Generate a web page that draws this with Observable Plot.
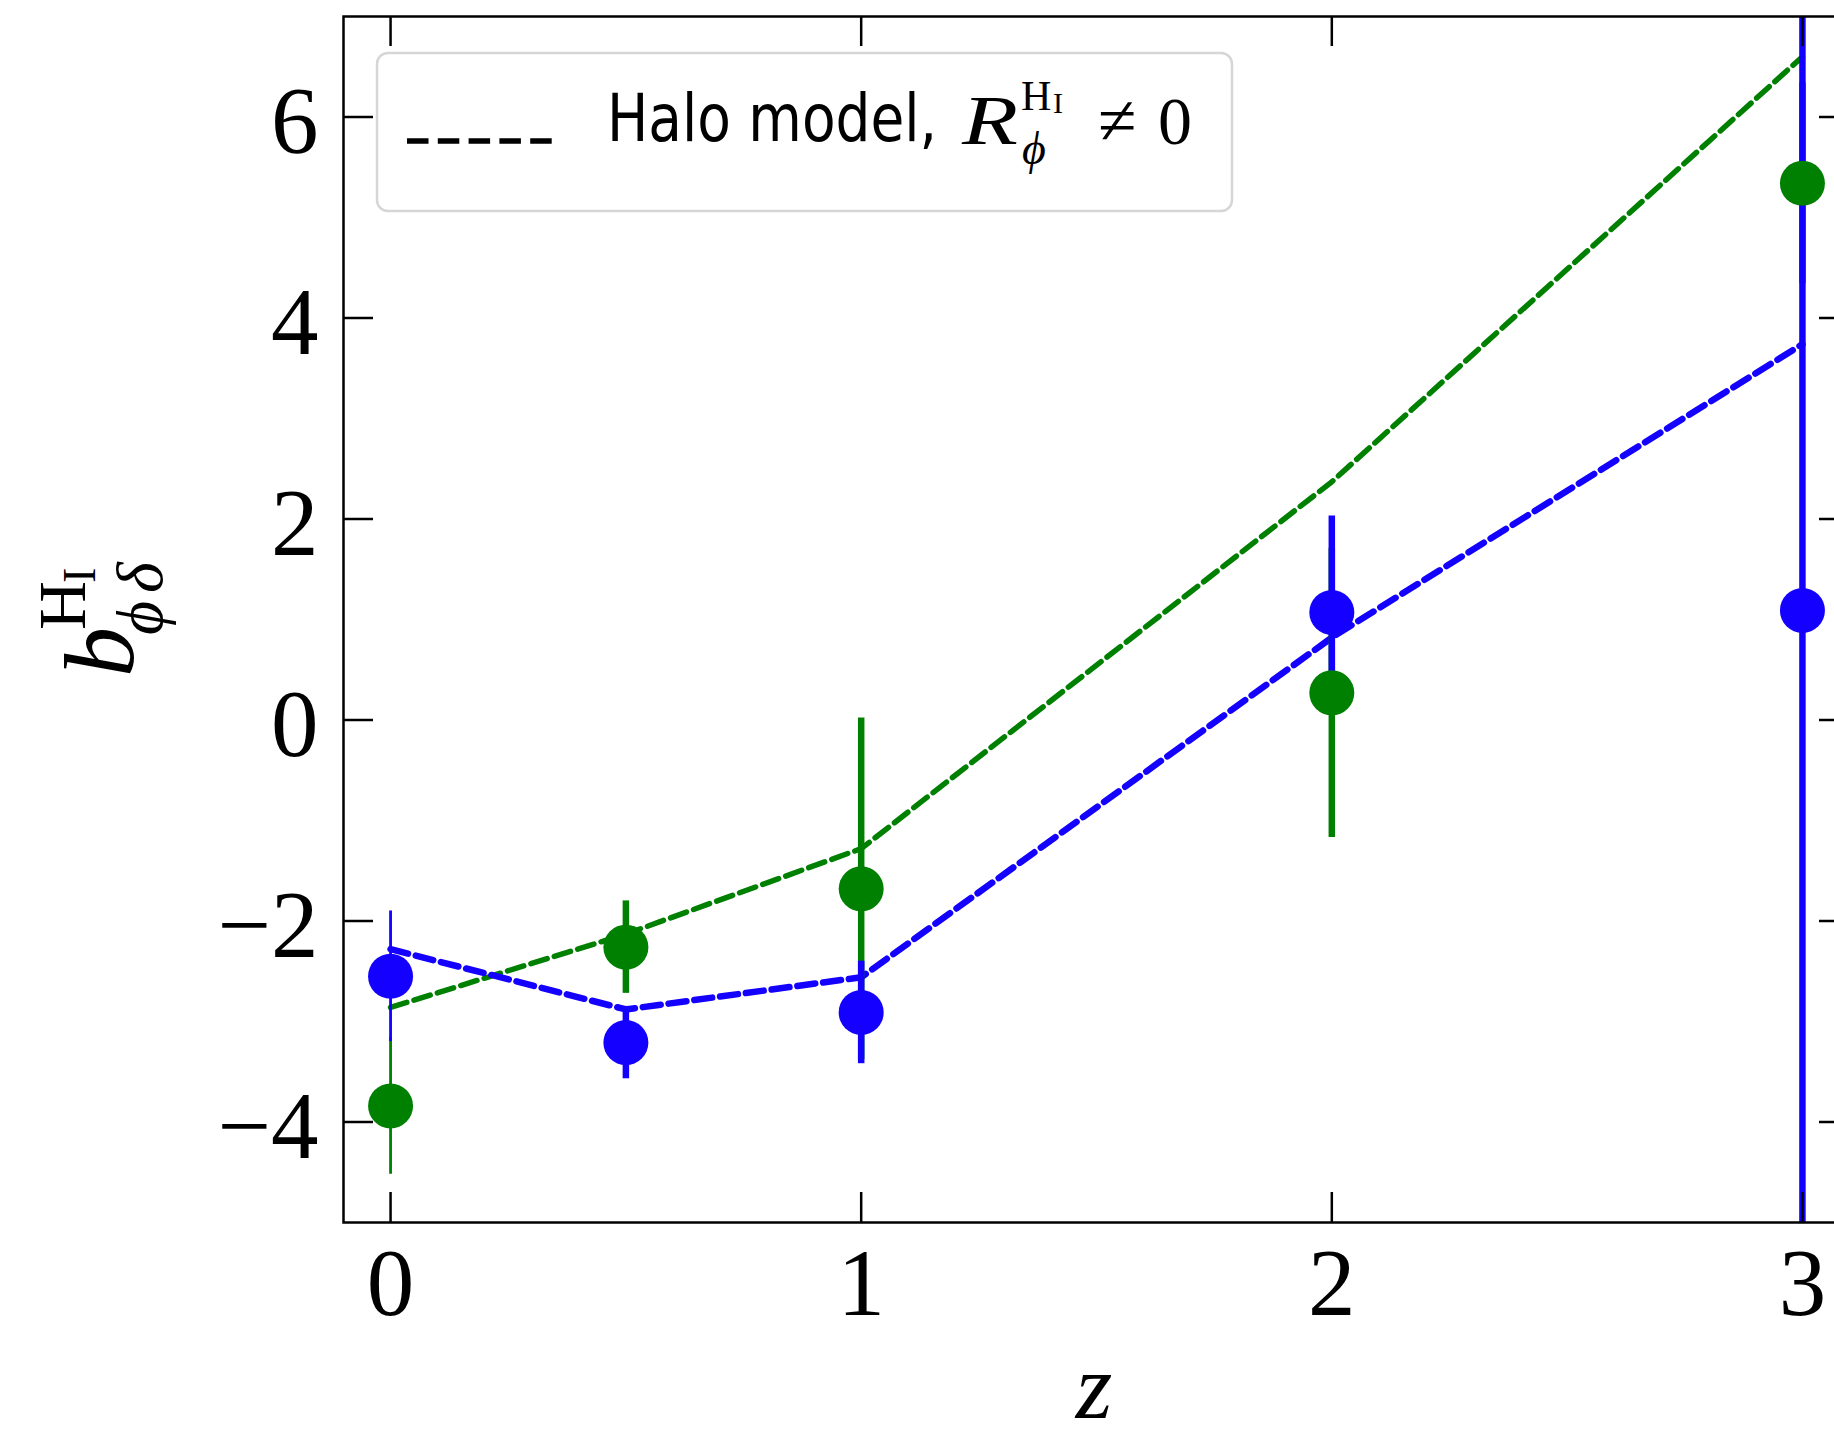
<!DOCTYPE html>
<html>
<head>
<meta charset="utf-8">
<script src="https://cdn.jsdelivr.net/npm/d3@7"></script>
<script src="https://cdn.jsdelivr.net/npm/@observablehq/plot@0.6"></script>
<style>
  html, body { margin: 0; padding: 0; background: white; overflow: hidden; }
  #wrap { position: relative; width: 1834px; height: 1438px; overflow: hidden; }
  #wrap > svg { max-width: none !important; }
  #overlay { position: absolute; left: 0; top: 0; pointer-events: none; }
</style>
</head>
<body>
<div id="wrap"></div>
<script>
// ---- data ----
const z = [0, 0.5, 1, 2, 3];
const greenVal = [-3.84, -2.26, -1.68, 0.27, 5.34];
const greenErr = [0.68, 0.46, 1.70, 1.44, 1.00];
const blueVal = [-2.55, -3.21, -2.91, 1.07, 1.09];
const blueErr = [0.65, 0.36, 0.51, 0.96, 8.00];
const greenModel = [-2.86, -2.13, -1.28, 2.37, 6.60];
const blueModel = [-2.28, -2.88, -2.56, 0.82, 3.74];
const xTicks = [0, 1, 2, 3];
const yTicks = [-4, -2, 0, 2, 4, 6];
const legendLabel = "Halo model,";

// ---- derived tables ----
const pts = (vals, errs) => z.map((d, i) => ({z: d, v: vals[i], e: errs[i]}));
const curve = (vals) => z.map((d, i) => ({z: d, v: vals[i]}));
const greenPts = pts(greenVal, greenErr);
const bluePts = pts(blueVal, blueErr);

const GREEN = "#008000";
const BLUE = "#1400ff";
const W = 1850, H = 1438, ML = 343, MR = 1, MT = 16, MB = 216;
const plotW = W - ML - MR, plotH = H - MT - MB;
const tickLen = 30;
const errW = d => d.z === 0 ? 2.8 : 6.5;
const fmt = d => d < 0 ? "\u2212" + Math.abs(d) : String(d);

const chart = Plot.plot({
  width: W, height: H,
  marginLeft: ML, marginRight: MR, marginTop: MT, marginBottom: MB,
  style: {fontFamily: "'Liberation Serif', 'DejaVu Serif', serif", fontSize: "95px", background: "white", color: "black", maxWidth: "none"},
  x: {domain: [-0.1, 3.1]},
  y: {domain: [-5, 7]},
  marks: [
    Plot.line(curve(greenModel), {x: "z", y: "v", stroke: GREEN, strokeWidth: 5.5, strokeDasharray: "17,7.5"}),
    Plot.line(curve(blueModel), {x: "z", y: "v", stroke: BLUE, strokeWidth: 6.5, strokeDasharray: "18,8"}),
    Plot.ruleX(greenPts, {x: "z", y1: d => d.v - d.e, y2: d => d.v + d.e, stroke: GREEN, strokeWidth: errW, clip: "frame"}),
    Plot.ruleX(bluePts, {x: "z", y1: d => d.v - d.e, y2: d => d.v + d.e, stroke: BLUE, strokeWidth: errW, clip: "frame"}),
    Plot.dot(greenPts, {x: "z", y: "v", r: 22.5, fill: GREEN, stroke: "none"}),
    Plot.dot(bluePts, {x: "z", y: "v", r: 22.5, fill: BLUE, stroke: "none"}),
    // inward ticks on all four sides
    Plot.ruleX(xTicks, {x: d => d, insetTop: plotH - tickLen, stroke: "black", strokeWidth: 2.5}),
    Plot.ruleX(xTicks, {x: d => d, insetBottom: plotH - tickLen, stroke: "black", strokeWidth: 2.5}),
    Plot.ruleY(yTicks, {y: d => d, insetRight: plotW - tickLen, stroke: "black", strokeWidth: 2.5}),
    Plot.ruleY(yTicks, {y: d => d, insetLeft: plotW - tickLen, stroke: "black", strokeWidth: 2.5}),
    Plot.axisX(xTicks, {tickSize: 0, tickPadding: 25, tickFormat: fmt, label: null}),
    Plot.axisY(yTicks, {tickSize: 0, tickPadding: 25, tickFormat: fmt, label: null, dy: 6}),
    Plot.frame({stroke: "black", strokeWidth: 2.5})
  ]
});
chart.style.maxWidth = "none";
chart.setAttribute("width", W);
chart.setAttribute("height", H);
const wrap = document.getElementById("wrap");
wrap.appendChild(chart);

// ---- overlay: legend and axis labels ----
const ns = "http://www.w3.org/2000/svg";
const ov = document.createElementNS(ns, "svg");
ov.setAttribute("id", "overlay");
ov.setAttribute("width", 1834);
ov.setAttribute("height", 1438);
wrap.appendChild(ov);
function el(tag, attrs, parent = ov, text) {
  const e = document.createElementNS(ns, tag);
  for (const k in attrs) e.setAttribute(k, attrs[k]);
  if (text != null) e.textContent = text;
  parent.appendChild(e);
  return e;
}
const SERIF = "'Liberation Serif', 'DejaVu Serif', serif";
const SANS = "'Liberation Sans Narrow', 'DejaVu Sans Condensed', 'Liberation Sans', sans-serif";

// legend
el("rect", {x: 377, y: 53, width: 855, height: 158, rx: 11, fill: "white", "fill-opacity": 0.8, stroke: "#d6d6d6", "stroke-width": 2.5});
el("line", {x1: 407, x2: 552, y1: 141, y2: 141, stroke: "black", "stroke-width": 5.5, "stroke-dasharray": "21.5,9.3"});
el("text", {x: 607, y: 141, "font-family": SANS, "font-size": 66, textLength: 330, lengthAdjust: "spacingAndGlyphs"}, ov, legendLabel);
el("text", {x: 962, y: 144, "font-family": SERIF, "font-style": "italic", "font-size": 70, textLength: 56, lengthAdjust: "spacingAndGlyphs"}, ov, "R");
el("text", {x: 1021, y: 110, "font-family": SERIF, "font-size": 42}, ov, "H");
el("text", {x: 1053, y: 113, "font-family": SERIF, "font-size": 30}, ov, "I");
el("text", {x: 1022, y: 164, "font-family": SERIF, "font-style": "italic", "font-size": 46}, ov, "\u03D5");
el("text", {x: 1098, y: 144, "font-family": SERIF, "font-size": 70}, ov, "\u2260");
el("text", {x: 1158, y: 144, "font-family": SERIF, "font-size": 68}, ov, "0");

// y label: b^{H_I}_{phi delta}, rotated
const g = el("g", {transform: "translate(133,675) rotate(-90)"});
el("text", {x: -2, y: 0, "font-family": SERIF, "font-style": "italic", "font-size": 100}, g, "b");
el("text", {x: 45, y: -48, "font-family": SERIF, "font-size": 68}, g, "H");
el("text", {x: 92, y: -38, "font-family": SERIF, "font-size": 46}, g, "I");
el("text", {x: 40, y: 29, "font-family": SERIF, "font-style": "italic", "font-size": 66}, g, "\u03D5");
el("text", {x: 82, y: 29, "font-family": SERIF, "font-style": "italic", "font-size": 66}, g, "\u03B4");

// x label
el("text", {x: 1094, y: 1418, "text-anchor": "middle", "font-family": SERIF, "font-style": "italic", "font-size": 94}, ov, "z");
</script>
</body>
</html>
